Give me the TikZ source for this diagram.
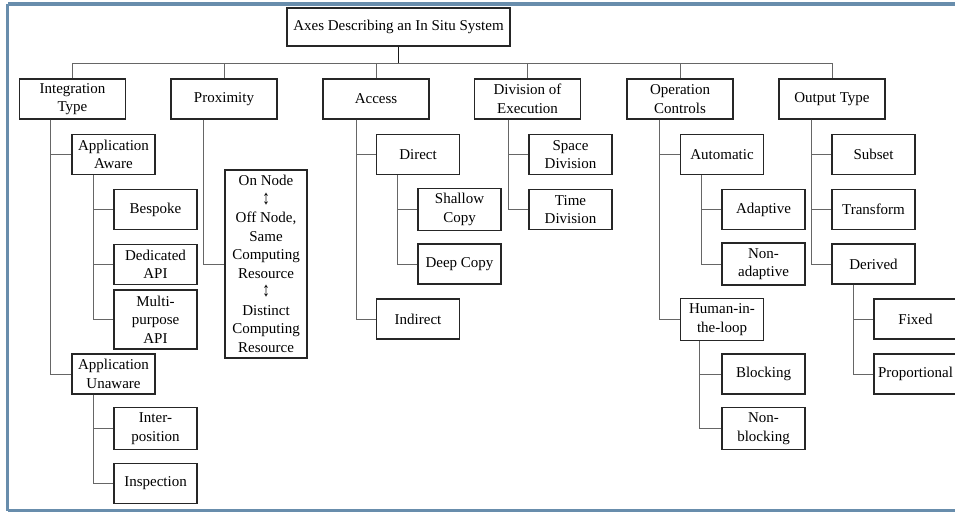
\documentclass[tikz,border=0pt]{standalone}
\usepackage{fontspec}
\setmainfont{Liberation Serif}
\newcommand{\updown}{\scalebox{1}[1.35]{↕}}
\begin{document}
\begin{tikzpicture}[x=1pt,y=-1pt,
  box/.style={draw=black!85, line width=1.2pt, align=center, inner xsep=1pt, inner ysep=1pt,
     font=\fontsize{15}{18.5}\selectfont, minimum height=40pt},
  top/.style={box, minimum width=106pt},
  kid/.style={box, minimum width=83pt},
  link/.style={draw=black!60, line width=0.8pt},
  stem/.style={draw=black!90, line width=1.2pt}]
\useasboundingbox (0,0) rectangle (955,512);
\fill[white] (0,0) rectangle (955,512);
\draw[line width=3.2pt, draw={rgb,255:red,104;green,141;blue,172}] (7.5,4) -- (7.5,510.5) (962,4) -- (7.5,4) (7.5,510.5) -- (962,510.5);

% root and first level
\node[box, minimum width=223pt, minimum height=38pt] (root) at (398.5,27) {Axes Describing an In Situ System};
\node[top] (int) at (72.5,99) {Integration\\Type};
\node[top] (prox) at (224,99) {Proximity};
\node[top] (acc) at (376,99) {Access};
\node[top] (div) at (527.5,99) {Division of\\Execution};
\node[top] (ops) at (680,99) {Operation\\Controls};
\node[top] (out) at (832,99) {Output Type};

\coordinate (bar) at (398.5,63);
\draw[stem] (root.south) -- (bar);
\draw[link] (int.north) |- (bar) (bar) -| (out.north);
\draw[link] (prox.north) -- (prox.north |- bar);
\draw[link] (acc.north) -- (acc.north |- bar);
\draw[link] (div.north) -- (div.north |- bar);
\draw[link] (ops.north) -- (ops.north |- bar);

% Integration Type
\node[kid] (aware) at (113.5,154.5) {Application\\Aware};
\node[kid] (unaware) at (113.5,374) {Application\\Unaware};
\node[kid] (bespoke) at (155.5,209.5) {Bespoke};
\node[kid] (dedicated) at (155.5,264.5) {Dedicated\\API};
\node[kid, minimum height=59pt] (multi) at (155.5,319.5) {Multi-\\purpose\\API};
\node[kid, minimum height=42pt] (interpos) at (155.5,428.5) {Inter-\\position};
\node[kid] (inspection) at (155.5,483.5) {Inspection};
\draw[link] (int.south west) ++(31,0) |- (unaware.west);
\draw[link] (int.south west) ++(31,0) |- (aware.west);
\draw[link] (aware.south west) ++(22,0) |- (multi.west);
\draw[link] (aware.south west) ++(22,0) |- (bespoke.west);
\draw[link] (aware.south west) ++(22,0) |- (dedicated.west);
\draw[link] (unaware.south west) ++(22,0) |- (inspection.west);
\draw[link] (unaware.south west) ++(22,0) |- (interpos.west);

% Proximity
\node[box, minimum width=82pt, minimum height=188pt, inner ysep=0pt] (range) at (266,264)
  {On Node\\\updown\\Off Node,\\Same\\Computing\\Resource\\\updown\\Distinct\\Computing\\Resource};
\draw[link] (prox.south west) ++(33,0) |- (range.west);

% Access
\node[kid] (direct) at (418,154.5) {Direct};
\node[kid] (indirect) at (418,319) {Indirect};
\node[kid, minimum height=42pt] (shallow) at (459.5,209.5) {Shallow\\Copy};
\node[kid] (deep) at (459.5,264) {Deep Copy};
\draw[link] (acc.south west) ++(34,0) |- (indirect.west);
\draw[link] (acc.south west) ++(34,0) |- (direct.west);
\draw[link] (direct.south west) ++(21,0) |- (deep.west);
\draw[link] (direct.south west) ++(21,0) |- (shallow.west);

% Division of Execution
\node[kid] (space) at (570.5,154.5) {Space\\Division};
\node[kid] (time) at (570.5,209.5) {Time\\Division};
\draw[link] (div.south west) ++(34,0) |- (time.west);
\draw[link] (div.south west) ++(34,0) |- (space.west);

% Operation Controls
\node[kid] (auto) at (722,154.5) {Automatic};
\node[kid, minimum height=42pt] (human) at (722,319.5) {Human-in-\\the-loop};
\node[kid] (adaptive) at (763.5,209.5) {Adaptive};
\node[kid, minimum height=42pt] (nonadaptive) at (763.5,264) {Non-\\adaptive};
\node[kid] (blocking) at (763.5,374) {Blocking};
\node[kid, minimum height=42pt] (nonblocking) at (763.5,428.5) {Non-\\blocking};
\draw[link] (ops.south west) ++(33,0) |- (human.west);
\draw[link] (ops.south west) ++(33,0) |- (auto.west);
\draw[link] (auto.south west) ++(21,0) |- (nonadaptive.west);
\draw[link] (auto.south west) ++(21,0) |- (adaptive.west);
\draw[link] (human.south west) ++(19,0) |- (nonblocking.west);
\draw[link] (human.south west) ++(19,0) |- (blocking.west);

% Output Type
\node[kid] (subset) at (873.5,154.5) {Subset};
\node[kid] (transform) at (873.5,209.5) {Transform};
\node[kid] (derived) at (873.5,264) {Derived};
\node[kid] (fixed) at (915.5,319) {Fixed};
\node[kid] (prop) at (915.5,374) {Proportional};
\draw[link] (out.south west) ++(33,0) |- (derived.west);
\draw[link] (out.south west) ++(33,0) |- (subset.west);
\draw[link] (out.south west) ++(33,0) |- (transform.west);
\draw[link] (derived.south west) ++(22,0) |- (prop.west);
\draw[link] (derived.south west) ++(22,0) |- (fixed.west);
\end{tikzpicture}
\end{document}
